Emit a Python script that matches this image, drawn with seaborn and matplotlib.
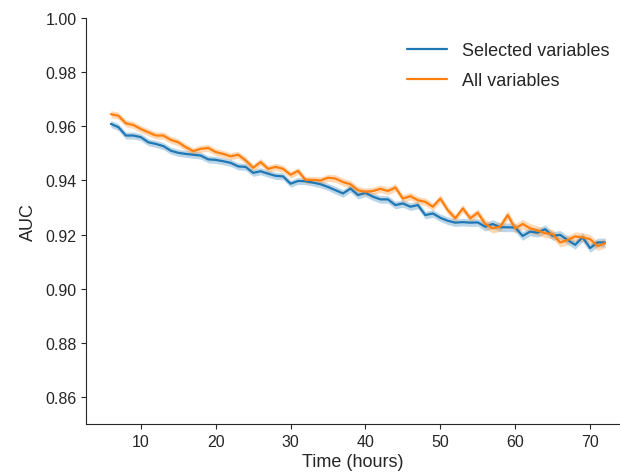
import numpy as np
import pandas as pd
import seaborn as sns
import matplotlib.pyplot as plt

hours = list(range(6, 73))

auc_selected = [
    0.9609, 0.9597, 0.9566, 0.9566, 0.9560, 0.9541, 0.9535, 0.9527, 0.9510, 0.9502,
    0.9498, 0.9495, 0.9492, 0.9478, 0.9476, 0.9471, 0.9465, 0.9452, 0.9450, 0.9428,
    0.9434, 0.9425, 0.9417, 0.9415, 0.9388, 0.9398, 0.9397, 0.9392, 0.9386, 0.9376,
    0.9364, 0.9352, 0.9370, 0.9346, 0.9354, 0.9340, 0.9330, 0.9330, 0.9309, 0.9315,
    0.9303, 0.9309, 0.9272, 0.9278, 0.9262, 0.9251, 0.9244, 0.9246, 0.9244, 0.9245,
    0.9229, 0.9239, 0.9227, 0.9227, 0.9226, 0.9195, 0.9211, 0.9207, 0.9220, 0.9195,
    0.9199, 0.9180, 0.9162, 0.9190, 0.9150, 0.9171, 0.9171,
]

auc_all = [
    0.9645, 0.9639, 0.9611, 0.9605, 0.9590, 0.9578, 0.9566, 0.9566, 0.9550, 0.9541,
    0.9523, 0.9508, 0.9517, 0.9520, 0.9505, 0.9498, 0.9489, 0.9495, 0.9474, 0.9447,
    0.9468, 0.9443, 0.9450, 0.9443, 0.9421, 0.9435, 0.9402, 0.9402, 0.9400, 0.9410,
    0.9407, 0.9394, 0.9386, 0.9364, 0.9358, 0.9361, 0.9369, 0.9361, 0.9374, 0.9333,
    0.9342, 0.9327, 0.9321, 0.9303, 0.9333, 0.9290, 0.9260, 0.9297, 0.9260, 0.9281,
    0.9239, 0.9223, 0.9229, 0.9272, 0.9223, 0.9239, 0.9223, 0.9215, 0.9205, 0.9202,
    0.9171, 0.9180, 0.9193, 0.9190, 0.9183, 0.9158, 0.9168,
]

# approximate half-width of the shaded confidence band
ci_selected = [0.0013] * 30 + [0.0014] * 20 + [0.0016] * 17
ci_all = [0.0013] * 30 + [0.0014] * 20 + [0.0017] * 17

labels = ['Selected variables', 'All variables']

df = pd.DataFrame({
    'hours': hours * 2,
    'auc': auc_selected + auc_all,
    'ci': ci_selected + ci_all,
    'model': [labels[0]] * len(hours) + [labels[1]] * len(hours),
})

sns.set_style('ticks')
plt.rcParams['font.family'] = ['Liberation Sans', 'DejaVu Sans']

fig = plt.figure(figsize=(6.2, 4.77), dpi=100)
ax = fig.add_axes([0.139, 0.109, 0.861, 0.851])

colors = ['#1f77b4', '#ff7f0e']
sns.lineplot(data=df, x='hours', y='auc', hue='model', palette=colors,
             linewidth=1.6, ax=ax)

for lab, col in zip(labels, colors):
    sub = df[df['model'] == lab]
    ax.fill_between(sub['hours'], sub['auc'] - sub['ci'], sub['auc'] + sub['ci'],
                    color=col, alpha=0.3, linewidth=0)

ax.set_ylim(0.85, 1.0)
ax.set_xlim(2.7, 74)
ax.set_xticks([10, 20, 30, 40, 50, 60, 70])
ax.set_yticks([0.86, 0.88, 0.90, 0.92, 0.94, 0.96, 0.98, 1.00])
ax.set_xlabel('Time (hours)', fontsize=13, labelpad=3)
ax.set_ylabel('AUC', fontsize=13, labelpad=6)
ax.tick_params(labelsize=11.5)
sns.despine(ax=ax)

leg = ax.legend(frameon=False, fontsize=13, loc='upper right',
                bbox_to_anchor=(1.01, 0.98), handlelength=2.2,
                labelspacing=0.7)

fig.savefig('out.png', dpi=100)
